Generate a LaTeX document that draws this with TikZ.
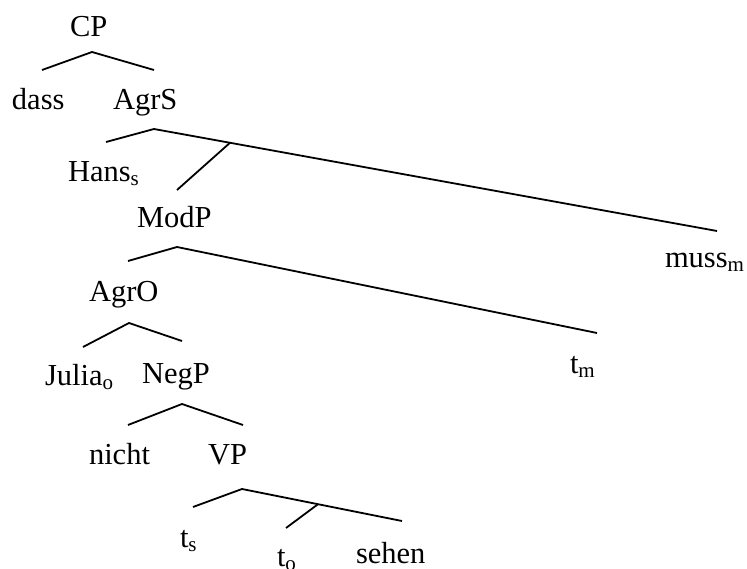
\documentclass[tikz,border=0pt]{standalone}
\usepackage{fontspec}
\setmainfont{Liberation Serif}
\newcommand\sbs[1]{\raisebox{-4pt}{\fontsize{21}{21}\selectfont #1}}
\begin{document}
\begin{tikzpicture}[x=1pt,y=-1pt,
  lbl/.style={anchor=base west, inner sep=0pt, outer sep=0pt, font=\fontsize{30.5}{36}\selectfont},
  br/.style={line width=1.8pt, line join=miter}]
\useasboundingbox[fill=white] (0,0) rectangle (747,569);
% labels
\node[lbl] (cp)    at (70,37)   {CP};
\node[lbl] (dass)  at (12,110)  {dass};
\node[lbl] (agrs)  at (113,110) {AgrS};
\node[lbl] (hans)  at (68,182)  {Hans\sbs{s}};
\node[lbl] (modp)  at (137,228) {ModP};
\node[lbl] (muss)  at (665,268) {muss\sbs{m}};
\node[lbl] (agro)  at (89,302)  {AgrO};
\node[lbl] (julia) at (45,385)  {Julia\sbs{o}};
\node[lbl] (negp)  at (142,383) {NegP};
\node[lbl] (tm)    at (570,373) {t\sbs{m}};
\node[lbl] (nicht) at (89,464)  {nicht};
\node[lbl] (vp)    at (208,464) {VP};
\node[lbl] (ts)    at (180,547) {t\sbs{s}};
\node[lbl] (to)    at (277,566) {t\sbs{o}};
\node[lbl] (sehen) at (356,563) {sehen};
% branch points
\coordinate (cpL) at (42,70);   \coordinate (cpA) at (92,52);   \coordinate (cpR) at (154,70);
\coordinate (asL) at (106,142); \coordinate (asA) at (154,129); \coordinate (asR) at (717,231);
\coordinate (asJ) at (230,142.8); \coordinate (asB) at (177,190);
\coordinate (mpL) at (128,261); \coordinate (mpA) at (177,247); \coordinate (mpR) at (597,333);
\coordinate (aoL) at (83,347);  \coordinate (aoA) at (129,323); \coordinate (aoR) at (182,341);
\coordinate (npL) at (128,425); \coordinate (npA) at (182,404); \coordinate (npR) at (243,425);
\coordinate (vpL) at (193,507); \coordinate (vpA) at (242,489); \coordinate (vpR) at (402,521);
\coordinate (vpJ) at (318,504.2); \coordinate (vpB) at (286,528);
% branches
\draw[br] (cpL) -- (cpA) -- (cpR);
\draw[br] (asL) -- (asA) -- (asR);
\draw[br] (asJ) -- (asB);
\draw[br] (mpL) -- (mpA) -- (mpR);
\draw[br] (aoL) -- (aoA) -- (aoR);
\draw[br] (npL) -- (npA) -- (npR);
\draw[br] (vpL) -- (vpA) -- (vpR);
\draw[br] (vpJ) -- (vpB);
\end{tikzpicture}
\end{document}
